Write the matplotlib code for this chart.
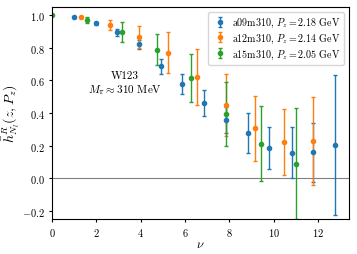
import numpy as np
import matplotlib
matplotlib.use('Agg')
import matplotlib.pyplot as plt

plt.rcParams['font.family'] = 'serif'
plt.rcParams['font.serif'] = ['cmr10']
plt.rcParams['mathtext.fontset'] = 'cm'
plt.rcParams['axes.formatter.use_mathtext'] = True

# a09m310, Pz = 2.18 GeV
nu_a09 = [0.98, 1.97, 2.93, 3.92, 4.91, 5.87, 6.86, 7.85, 8.83, 9.80, 10.80, 11.77, 12.76]
h_a09 = [0.986, 0.949, 0.894, 0.821, 0.685, 0.577, 0.460, 0.356, 0.277, 0.185, 0.157, 0.159, 0.205]
err_a09 = [0.005, 0.008, 0.02, 0.028, 0.045, 0.06, 0.08, 0.08, 0.12, 0.13, 0.155, 0.18, 0.43]

# a12m310, Pz = 2.14 GeV
nu_a12 = [1.31, 2.61, 3.92, 5.24, 6.55, 7.85, 9.16, 10.46, 11.77]
h_a12 = [0.986, 0.939, 0.866, 0.770, 0.620, 0.449, 0.305, 0.222, 0.230]
err_a12 = [0.006, 0.032, 0.07, 0.125, 0.17, 0.19, 0.20, 0.20, 0.27]

# a15m310, Pz = 2.05 GeV
nu_a15 = [0.0, 1.58, 3.15, 4.71, 6.26, 7.85, 9.41, 10.99]
h_a15 = [1.0, 0.970, 0.894, 0.789, 0.616, 0.393, 0.212, 0.090]
err_a15 = [0.0, 0.02, 0.062, 0.095, 0.147, 0.195, 0.23, 0.34]

labels = [r'a09m310, $P_z = 2.18$ GeV',
          r'a12m310, $P_z = 2.14$ GeV',
          r'a15m310, $P_z = 2.05$ GeV']

fig = plt.figure(figsize=(3.57, 2.55), dpi=100)
ax = fig.add_axes([0.146, 0.137, 0.832, 0.832])

ax.axhline(0, color='gray', lw=0.8, zorder=0)
series = [(nu_a09, h_a09, err_a09), (nu_a12, h_a12, err_a12), (nu_a15, h_a15, err_a15)]
for (x, y, e), lab in zip(series, labels):
    ax.errorbar(x, y, yerr=e, fmt='o', ms=3, capsize=1.5, elinewidth=1, capthick=1, label=lab)

ax.text(3.3, 0.63, 'W123', ha='center', va='center', fontsize=8)
ax.text(3.3, 0.545, r'$M_\pi \approx 310$ MeV', ha='center', va='center', fontsize=8)

ax.set_xlim(0, 13.4)
ax.set_ylim(-0.25, 1.05)
ax.set_xticks([0, 2, 4, 6, 8, 10, 12])
ax.set_yticks([-0.2, 0.0, 0.2, 0.4, 0.6, 0.8, 1.0])
ax.tick_params(labelsize=7.5, length=2.5, pad=2.5)
ax.set_xlabel(r'$\nu$', fontsize=9, labelpad=0)
ax.set_ylabel(r'$\bar{h}^R_{N_l}(z, P_z)$', fontsize=10, labelpad=0)
ax.legend(loc='upper right', fontsize=7.2, handletextpad=0.4, borderpad=0.4,
          labelspacing=0.25, handlelength=1.6)

fig.savefig('out.png', dpi=100)
